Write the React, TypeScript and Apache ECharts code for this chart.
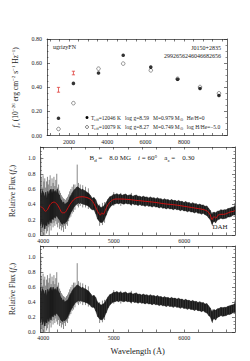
import React, { useEffect, useRef } from "react";
import * as echarts from "echarts";

// ---------- photometry (top panel) ----------
const bandNames = ["FUV", "NUV", "u", "g", "r", "i", "z", "y"];
const bandWave = [1450, 2230, 3540, 4830, 6270, 7670, 8840, 9830];
const modelFilled = [0.143, 0.432, 0.518, 0.665, 0.567, 0.466, 0.39, 0.332];
const modelOpen = [0.054, 0.268, 0.554, 0.596, 0.54, 0.47, 0.402, 0.35];
const obsWave = [1450, 2230];
const obsFlux = [0.379, 0.518];
const obsErr = [0.02, 0.015];

const topXLabels = [2000, 4000, 6000, 8000];
const topXTicks = [1000, 1500, 2000, 2500, 3000, 3500, 4000, 4500, 5000, 5500, 6000, 6500, 7000, 7500, 8000, 8500, 9000, 9500, 10000];
const specXLabels = [4000, 5000, 6000];
const specXTicks = [4000, 4200, 4400, 4600, 4800, 5000, 5200, 5400, 5600, 5800, 6000, 6200, 6400, 6600];

// ---------- spectrum: dense core envelope (high / low) ----------
const specWave = [
  3960, 3975, 3990, 4005, 4020, 4035, 4050, 4065, 4080, 4095, 4110, 4125, 4140, 4155, 4170, 4185, 4200, 4215, 4230, 4245,
  4260, 4275, 4290, 4305, 4320, 4335, 4350, 4365, 4380, 4395, 4410, 4425, 4440, 4455, 4470, 4485, 4500, 4515, 4530, 4545,
  4560, 4575, 4590, 4605, 4620, 4635, 4650, 4665, 4680, 4695,
  4720, 4745, 4770, 4795, 4820, 4845, 4870, 4895, 4920, 4945, 4970, 4995, 5020, 5045, 5070, 5095, 5120, 5145, 5170, 5195,
  5220, 5245, 5270, 5295, 5320, 5345, 5370, 5395, 5420, 5445, 5470, 5495, 5520, 5545, 5570, 5595, 5620, 5645, 5670, 5695,
  5720, 5745, 5770, 5795, 5820, 5845, 5870, 5895, 5920, 5945, 5970, 5995, 6020, 6045, 6070, 6095, 6120, 6145, 6170, 6195,
  6220, 6245, 6270, 6295, 6320, 6345, 6370, 6395, 6420, 6445, 6470, 6495, 6520, 6545, 6570, 6595, 6620, 6645, 6670, 6695,
  6720,
];
const specHigh = [
  0.6, 0.52, 0.58, 0.55, 0.5, 0.56, 0.48, 0.57, 0.53, 0.58, 0.6, 0.55, 0.6, 0.56, 0.58, 0.55, 0.6, 0.54, 0.52, 0.47,
  0.45, 0.42, 0.43, 0.4, 0.41, 0.42, 0.43, 0.46, 0.5, 0.52, 0.55, 0.57, 0.59, 0.6, 0.62, 0.63, 0.62, 0.61, 0.6, 0.59,
  0.6, 0.58, 0.58, 0.57, 0.56, 0.55, 0.54, 0.52, 0.5, 0.48,
  0.49, 0.46, 0.4, 0.38, 0.36, 0.37, 0.39, 0.43, 0.47, 0.5, 0.51, 0.53, 0.53, 0.54, 0.525, 0.535, 0.52, 0.528, 0.536, 0.515,
  0.523, 0.525, 0.508, 0.515, 0.523, 0.505, 0.508, 0.495, 0.508, 0.495, 0.498, 0.485, 0.498, 0.485, 0.488, 0.475, 0.487, 0.473, 0.475, 0.46,
  0.473, 0.46, 0.463, 0.45, 0.463, 0.45, 0.453, 0.44, 0.452, 0.438, 0.44, 0.425, 0.437, 0.423, 0.424, 0.41, 0.422, 0.408, 0.41, 0.395,
  0.405, 0.392, 0.393, 0.375, 0.38, 0.35, 0.32, 0.27, 0.3, 0.29, 0.31, 0.315, 0.33, 0.325, 0.33, 0.33, 0.345, 0.35, 0.36, 0.365,
  0.38,
];
const specLow = [
  0.12, 0.18, 0.1, 0.15, 0.08, 0.14, 0.12, 0.18, 0.14, 0.2, 0.16, 0.22, 0.2, 0.24, 0.22, 0.25, 0.24, 0.22, 0.2, 0.17,
  0.15, 0.14, 0.16, 0.15, 0.17, 0.18, 0.21, 0.24, 0.27, 0.3, 0.32, 0.35, 0.37, 0.39, 0.4, 0.41, 0.42, 0.41, 0.42, 0.41,
  0.41, 0.4, 0.4, 0.39, 0.39, 0.38, 0.37, 0.36, 0.34, 0.33,
  0.33, 0.28, 0.21, 0.18, 0.16, 0.17, 0.21, 0.26, 0.32, 0.36, 0.385, 0.4, 0.405, 0.415, 0.405, 0.42, 0.41, 0.403, 0.416, 0.405,
  0.408, 0.395, 0.408, 0.395, 0.398, 0.385, 0.398, 0.385, 0.388, 0.375, 0.388, 0.375, 0.378, 0.365, 0.378, 0.365, 0.367, 0.353, 0.365, 0.35,
  0.353, 0.34, 0.353, 0.34, 0.343, 0.33, 0.343, 0.33, 0.332, 0.318, 0.33, 0.315, 0.317, 0.303, 0.314, 0.3, 0.302, 0.288, 0.3, 0.285,
  0.285, 0.272, 0.283, 0.265, 0.255, 0.225, 0.2, 0.14, 0.18, 0.16, 0.195, 0.205, 0.22, 0.21, 0.215, 0.22, 0.235, 0.235, 0.245, 0.26,
  0.26,
];

// ---------- spectrum: individual noise spikes (wavelength, bottom, top) ----------
const spikeWave = [
  3965, 3972, 3985, 3998, 4010, 4022, 4035, 4048, 4060, 4072, 4085, 4098, 4112, 4125, 4140, 4152, 4165, 4178, 4192, 4205,
  4218, 4232, 4245, 4258, 4272, 4288, 4300, 4315, 4330, 4345, 4360, 4375, 4392, 4410, 4430, 4450, 4482, 4500, 4525, 4560,
  4600, 4640, 4800, 4840, 4870, 5000, 5100, 5250, 6400, 6716,
];
const spikeLow = [
  0.0, 0.05, 0.0, 0.02, 0.05, 0.0, 0.08, 0.02, 0.05, 0.1, 0.0, 0.12, 0.06, 0.15, 0.1, 0.16, 0.12, 0.18, 0.14, 0.1,
  0.16, 0.08, 0.12, 0.06, 0.1, 0.04, 0.12, 0.08, 0.14, 0.12, 0.18, 0.22, 0.24, 0.28, 0.3, 0.33, 0.38, 0.36, 0.38, 0.36,
  0.36, 0.34, 0.12, 0.13, 0.16, 0.38, 0.38, 0.38, 0.12, 0.26,
];
const spikeHigh = [
  1.02, 0.75, 0.62, 0.78, 0.7, 0.74, 0.62, 0.7, 0.76, 0.66, 0.72, 0.78, 0.64, 0.74, 0.68, 0.76, 0.64, 0.72, 0.8, 0.62,
  0.66, 0.58, 0.55, 0.52, 0.5, 0.48, 0.47, 0.46, 0.48, 0.5, 0.53, 0.57, 0.6, 0.63, 0.66, 0.66, 0.92, 0.68, 0.66, 0.65,
  0.63, 0.61, 0.4, 0.42, 0.43, 0.56, 0.55, 0.55, 0.3, 0.42,
];

// ---------- model fit (red) ----------
const modelWave = [
  3960, 4000, 4030, 4060, 4100, 4150, 4190, 4230, 4270, 4300, 4330, 4380, 4430, 4480, 4550, 4620, 4680, 4720, 4760, 4790,
  4810, 4830, 4850, 4880, 4920, 4970, 5030, 5100, 5200, 5300, 5400, 5500, 5600, 5700, 5800, 5900, 6000, 6100, 6200, 6280,
  6330, 6370, 6395, 6420, 6450, 6480, 6520, 6560, 6600, 6650, 6700, 6720,
];
const modelFlux = [
  0.37, 0.35, 0.31, 0.33, 0.4, 0.43, 0.41, 0.35, 0.29, 0.29, 0.32, 0.4, 0.46, 0.49, 0.5, 0.49, 0.46, 0.41, 0.33, 0.28,
  0.26, 0.29, 0.27, 0.32, 0.4, 0.45, 0.47, 0.47, 0.465, 0.455, 0.445, 0.435, 0.425, 0.41, 0.4, 0.39, 0.375, 0.36, 0.345, 0.33,
  0.31, 0.26, 0.2, 0.24, 0.22, 0.26, 0.27, 0.27, 0.28, 0.3, 0.31, 0.32,
];

const FONT = "Liberation Serif";
const INK = "#222";
const RED = "#e0403c";

function zip(a: number[], b: number[]) {
  return a.map((v, i) => [v, b[i]]);
}

function xAxisCfg(grid: number, min: number, max: number, labels: number[], ticks: number[], top: boolean, extra: any = {}) {
  return {
    type: "value",
    gridIndex: grid,
    position: top ? "top" : "bottom",
    min,
    max,
    splitLine: { show: false },
    axisLine: { show: true, onZero: false, lineStyle: { color: INK, width: 0.7 } },
    axisTick: { show: true, inside: true, length: 2.5, customValues: ticks, lineStyle: { color: INK, width: 0.6 } },
    axisLabel: {
      show: !top,
      customValues: labels,
      formatter: (v: number) => String(Math.round(v)),
      fontFamily: FONT,
      fontSize: 6,
      color: INK,
      margin: 3,
    },
    ...extra,
  };
}

function yAxisCfg(grid: number, max: number, digits: number, right: boolean, extra: any = {}) {
  return {
    type: "value",
    gridIndex: grid,
    position: right ? "right" : "left",
    min: 0,
    max,
    interval: 0.2,
    splitLine: { show: false },
    axisLine: { show: true, onZero: false, lineStyle: { color: INK, width: 0.7 } },
    axisTick: { show: true, inside: true, length: 3, lineStyle: { color: INK, width: 0.6 } },
    minorTick: { show: true, splitNumber: 4, length: 1.5, lineStyle: { color: INK, width: 0.5 } },
    axisLabel: {
      show: !right,
      showMaxLabel: max === 0.8,
      formatter: (v: number) => v.toFixed(digits),
      fontFamily: FONT,
      fontSize: 6,
      color: INK,
      margin: 5,
    },
    ...extra,
  };
}

const richBase = {
  a: { fontFamily: FONT, fontSize: 7.5, color: INK, lineHeight: 10 },
  i: { fontFamily: FONT, fontSize: 7.5, color: INK, fontStyle: "italic", lineHeight: 10 },
  s: { fontFamily: FONT, fontSize: 5, color: INK, verticalAlign: "bottom", lineHeight: 6 },
  p: { fontFamily: FONT, fontSize: 5, color: INK, verticalAlign: "top", lineHeight: 6 },
};

function bandSeries(xi: number, yi: number) {
  return {
    type: "custom",
    name: "spectrum band " + xi,
    xAxisIndex: xi,
    yAxisIndex: yi,
    clip: true,
    data: specWave.map((w, i) => [w, specLow[i], specHigh[i]]),
    encode: { x: 0, y: [1, 2] },
    renderItem: (params: any, api: any) => {
      const k = params.dataIndexInside;
      if (k >= params.dataInsideLength - 1) return null;
      const w0 = api.value(0, k);
      const w1 = api.value(0, k + 1);
      const a = api.coord([w0, api.value(2, k)]);
      const b = api.coord([w1, api.value(2, k + 1)]);
      const c = api.coord([w1, api.value(1, k + 1)]);
      const d = api.coord([w0, api.value(1, k)]);
      return {
        type: "polygon",
        shape: { points: [a, b, c, d] },
        style: { fill: "#1c1c1c", stroke: "#1c1c1c", lineWidth: 0.4 },
      };
    },
  };
}

function spikeSeries(xi: number, yi: number) {
  return {
    type: "custom",
    name: "spectrum spikes " + xi,
    xAxisIndex: xi,
    yAxisIndex: yi,
    clip: true,
    data: spikeWave.map((w, i) => [w, spikeLow[i], spikeHigh[i]]),
    encode: { x: 0, y: [1, 2] },
    renderItem: (params: any, api: any) => {
      const t = api.coord([api.value(0), api.value(2)]);
      const b = api.coord([api.value(0), api.value(1)]);
      return {
        type: "line",
        shape: { x1: t[0], y1: t[1], x2: b[0], y2: b[1] },
        style: { stroke: "#555", lineWidth: 0.7 },
      };
    },
  };
}

export default function App() {
  const ref = useRef<HTMLDivElement>(null);
  useEffect(() => {
    if (!ref.current) return;
    const chart = echarts.init(ref.current, undefined, { renderer: "svg" });
    const option: any = {
      animation: false,
      backgroundColor: "#ffffff",
      grid: [
        { left: 47, top: 39, width: 180, height: 96.5 },
        { left: 40, top: 147, width: 195, height: 88 },
        { left: 40, top: 246, width: 195, height: 86 },
      ],
      xAxis: [
        xAxisCfg(0, 850, 10250, topXLabels, topXTicks, false),
        xAxisCfg(0, 850, 10250, topXLabels, topXTicks, true),
        xAxisCfg(1, 3960, 6720, specXLabels, specXTicks, false),
        xAxisCfg(1, 3960, 6720, specXLabels, specXTicks, true),
        xAxisCfg(2, 3960, 6720, specXLabels, specXTicks, false, {
          name: "Wavelength (Å)",
          nameLocation: "middle",
          nameGap: 14,
          nameTextStyle: { fontFamily: FONT, fontSize: 8.5, color: INK },
        }),
        xAxisCfg(2, 3960, 6720, specXLabels, specXTicks, true),
      ],
      yAxis: [
        yAxisCfg(0, 0.8, 2, false, {
          name: "{i|f}{s|ν}{a| (10}{p|−26}{a| erg cm}{p|−2}{a| s}{p|−1}{a| Hz}{p|−1}{a|)}",
          nameLocation: "middle",
          nameGap: 23,
          nameTextStyle: { rich: richBase },
        }),
        yAxisCfg(0, 0.8, 2, true),
        yAxisCfg(1, 1.15, 1, false, {
          name: "{a|Relative Flux (}{i|f}{s|ν}{a|)}",
          nameLocation: "middle",
          nameGap: 15,
          nameTextStyle: { rich: richBase },
        }),
        yAxisCfg(1, 1.15, 1, true),
        yAxisCfg(2, 1.15, 1, false, {
          name: "{a|Relative Flux (}{i|f}{s|ν}{a|)}",
          nameLocation: "middle",
          nameGap: 15,
          nameTextStyle: { rich: richBase },
        }),
        yAxisCfg(2, 1.15, 1, true),
      ],
      series: [
        {
          type: "custom",
          name: "observed",
          xAxisIndex: 0,
          yAxisIndex: 0,
          data: obsWave.map((w, i) => [w, obsFlux[i], obsErr[i]]),
          encode: { x: 0, y: 1 },
          renderItem: (params: any, api: any) => {
            const x = api.value(0);
            const y = api.value(1);
            const e = api.value(2);
            const t = api.coord([x, y + e]);
            const b = api.coord([x, y - e]);
            const w = 1.6;
            const st = { stroke: RED, lineWidth: 0.8 };
            return {
              type: "group",
              children: [
                { type: "line", shape: { x1: t[0], y1: t[1], x2: b[0], y2: b[1] }, style: st },
                { type: "line", shape: { x1: t[0] - w, y1: t[1], x2: t[0] + w, y2: t[1] }, style: st },
                { type: "line", shape: { x1: b[0] - w, y1: b[1], x2: b[0] + w, y2: b[1] }, style: st },
              ],
            };
          },
        },
        {
          type: "scatter",
          name: "model DA",
          xAxisIndex: 0,
          yAxisIndex: 0,
          data: zip(bandWave, modelOpen),
          symbol: "circle",
          symbolSize: 3.6,
          itemStyle: { color: "#ffffff", borderColor: INK, borderWidth: 0.6 },
        },
        {
          type: "scatter",
          name: "model DB",
          xAxisIndex: 0,
          yAxisIndex: 0,
          data: zip(bandWave, modelFilled),
          symbol: "circle",
          symbolSize: 3.6,
          itemStyle: { color: "#000" },
        },
        spikeSeries(2, 2),
        bandSeries(2, 2),
        {
          type: "line",
          name: "fit",
          xAxisIndex: 2,
          yAxisIndex: 2,
          data: zip(modelWave, modelFlux),
          showSymbol: false,
          smooth: 0.3,
          lineStyle: { color: "#cc1111", width: 1 },
        },
        spikeSeries(4, 4),
        bandSeries(4, 4),
      ],
      graphic: [
        { type: "text", left: 53, top: 44, style: { text: "ugrizyFN", font: `6px '${FONT}'`, fill: INK } },
        { type: "text", x: 221, y: 48, style: { text: "J0150+2835", font: `6px '${FONT}'`, fill: INK, align: "right", verticalAlign: "middle" } },
        { type: "text", x: 221, y: 56, style: { text: "2992656246046682656", font: `6px '${FONT}'`, fill: INK, align: "right", verticalAlign: "middle" } },
        { type: "circle", shape: { cx: 87, cy: 117.5, r: 1.5 }, style: { fill: "#000" } },
        { type: "circle", shape: { cx: 87, cy: 127, r: 1.5 }, style: { fill: "#fff", stroke: INK, lineWidth: 0.6 } },
        {
          type: "text",
          x: 91,
          y: 117.5,
          style: {
            text: "{a|T}{s|eff}{a|=12046 K   log g=8.59   M=0.979 M}{s|⊙}{a|   He/H=0}",
            verticalAlign: "middle",
            rich: {
              a: { fontFamily: FONT, fontSize: 5.5, fill: INK, lineHeight: 7 },
              s: { fontFamily: FONT, fontSize: 4, fill: INK, verticalAlign: "bottom", lineHeight: 4 },
            },
          },
        },
        {
          type: "text",
          x: 91,
          y: 127,
          style: {
            text: "{a|T}{s|eff}{a|=10079 K   log g=8.27   M=0.749 M}{s|⊙}{a|   log H/He=−5.0}",
            verticalAlign: "middle",
            rich: {
              a: { fontFamily: FONT, fontSize: 5.5, fill: INK, lineHeight: 7 },
              s: { fontFamily: FONT, fontSize: 4, fill: INK, verticalAlign: "bottom", lineHeight: 4 },
            },
          },
        },
        {
          type: "text",
          x: 142,
          y: 158,
          style: {
            text: "{a|B}{s|d}{a| =    8.0 MG    }{i|i}{a| = 60°    a}{s|z}{a| =    0.30}",
            align: "center",
            verticalAlign: "middle",
            rich: {
              a: { fontFamily: FONT, fontSize: 7, fill: INK, lineHeight: 9 },
              i: { fontFamily: FONT, fontSize: 7, fill: INK, fontStyle: "italic", lineHeight: 9 },
              s: { fontFamily: FONT, fontSize: 5, fill: INK, verticalAlign: "bottom", lineHeight: 5 },
            },
          },
        },
        { type: "text", x: 220, y: 227, style: { text: "DAH", font: `7px '${FONT}'`, fill: INK, align: "center", verticalAlign: "middle" } },
      ],
    };
    chart.setOption(option);
    return () => chart.dispose();
  }, []);
  return (
    <div
      ref={ref}
      style={{ position: "fixed", left: 0, top: 0, width: 250, height: 361, background: "#fff" }}
    />
  );
}
